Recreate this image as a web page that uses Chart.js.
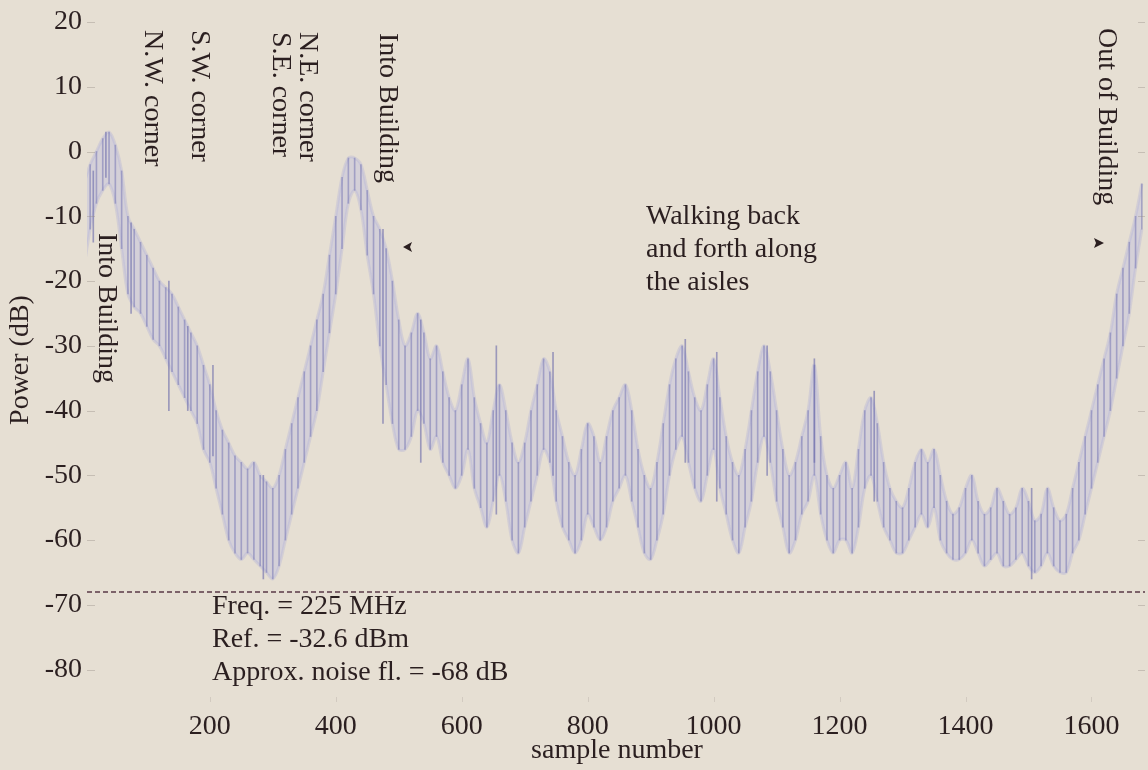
<!DOCTYPE html>
<html>
<head>
<meta charset="utf-8">
<script src="https://cdn.jsdelivr.net/npm/chart.js@4.4.1/dist/chart.umd.min.js"></script>
<style>
html,body{margin:0;padding:0;background:#e6dfd3;}
canvas{display:block;}
</style>
</head>
<body>
<canvas id="c" width="1148" height="770"></canvas>
<script>
// ---- data ----
const samples = [
0,10,20,30,40,50,60,70,80,90,
100,110,120,130,140,150,160,170,180,190,
200,210,220,230,240,250,260,270,280,290,
300,310,320,330,340,350,360,370,380,390,
400,410,420,430,440,450,460,470,480,490,
500,510,520,530,540,550,560,570,580,590,
600,610,620,630,640,650,660,670,680,690,
700,710,720,730,740,750,760,770,780,790,
800,810,820,830,840,850,860,870,880,890,
900,910,920,930,940,950,960,970,980,990,
1000,1010,1020,1030,1040,1050,1060,1070,1080,1090,
1100,1110,1120,1130,1140,1150,1160,1170,1180,1190,
1200,1210,1220,1230,1240,1250,1260,1270,1280,1290,
1300,1310,1320,1330,1340,1350,1360,1370,1380,1390,
1400,1410,1420,1430,1440,1450,1460,1470,1480,1490,
1500,1510,1520,1530,1540,1550,1560,1570,1580,1590,
1600,1610,1620,1630,1640,1650,1660,1670,1680];
const powerUpper = [
-5,-2,0,2,3,1,-3,-10,-12,-14,
-16,-18,-20,-21,-22,-24,-26,-28,-30,-33,
-36,-40,-43,-45,-47,-48,-49,-48,-50,-51,
-52,-50,-46,-42,-38,-34,-30,-26,-22,-16,
-10,-4,-1,-1,-2,-6,-10,-12,-15,-20,
-26,-30,-28,-25,-28,-32,-30,-34,-38,-40,
-36,-32,-38,-42,-45,-40,-36,-40,-45,-48,
-45,-40,-36,-32,-34,-40,-44,-48,-50,-46,
-42,-44,-48,-44,-40,-38,-36,-40,-46,-50,
-52,-48,-42,-36,-32,-30,-34,-38,-40,-36,
-32,-38,-44,-48,-50,-46,-40,-34,-30,-34,
-40,-46,-50,-48,-44,-40,-33,-44,-50,-52,
-50,-48,-52,-46,-40,-38,-42,-48,-52,-54,
-55,-52,-48,-46,-48,-46,-50,-54,-56,-55,
-52,-50,-54,-56,-55,-52,-54,-56,-55,-52,
-54,-57,-56,-52,-55,-57,-56,-52,-48,-44,
-40,-36,-32,-28,-22,-18,-14,-10,-5];
const powerLower = [
-18,-12,-8,-6,-5,-8,-15,-22,-24,-25,
-27,-29,-30,-32,-34,-36,-38,-40,-42,-46,
-48,-52,-56,-60,-62,-63,-62,-63,-64,-65,
-66,-64,-60,-56,-52,-48,-44,-40,-34,-28,
-22,-15,-8,-6,-9,-16,-22,-30,-36,-42,
-46,-46,-44,-40,-42,-46,-44,-48,-50,-52,
-50,-46,-52,-55,-58,-54,-50,-54,-60,-62,
-58,-54,-50,-46,-48,-54,-58,-60,-62,-60,
-56,-58,-60,-58,-54,-52,-50,-54,-58,-62,
-63,-60,-56,-50,-46,-44,-48,-52,-54,-50,
-46,-52,-56,-60,-62,-58,-54,-48,-44,-48,
-54,-58,-62,-60,-56,-54,-50,-56,-60,-62,
-60,-60,-62,-58,-52,-50,-54,-58,-60,-62,
-62,-60,-58,-56,-58,-55,-60,-62,-63,-63,
-62,-60,-62,-64,-63,-62,-64,-64,-63,-62,
-64,-65,-64,-62,-64,-65,-65,-62,-60,-56,
-52,-48,-44,-40,-35,-30,-25,-18,-12];
// sparse isolated spikes seen above/below the band
const spikeSamples = [15, 35, 75, 135, 165, 205, 285, 475, 535, 655, 745, 955, 1005, 1085, 1160, 1255, 1505];
const spikeTop = [-3, 3, -11, -20, -27, -33, -50, -12, -26, -30, -31, -29, -31, -30, -32, -37, -52];
const spikeBottom = [-14, -4, -25, -40, -40, -47, -66, -42, -48, -56, -50, -48, -54, -50, -48, -54, -66];
const noiseFloor = -68;
const xTicks = [200,400,600,800,1000,1200,1400,1600];
const yTicks = [20,10,0,-10,-20,-30,-40,-50,-60,-70,-80];
const xRange = [5,1685];
const yRange = [-85,20];

const FONT = '"Liberation Serif", "Times New Roman", serif';
const TXT = '#2b1f20';

const bandData = samples.map((s,i)=>({x:s, y:[powerLower[i], powerUpper[i]]}));
const upperData = samples.map((s,i)=>({x:s, y:powerUpper[i]}));
const lowerData = samples.map((s,i)=>({x:s, y:powerLower[i]}));
const spikeData = spikeSamples.map((s,i)=>({x:s, y:[spikeBottom[i], spikeTop[i]]}));
const floorData = [{x:xRange[0], y:noiseFloor},{x:xRange[1], y:noiseFloor}];

const annot = {
  id:'annot',
  afterDraw(chart){
    const ctx = chart.ctx, xs = chart.scales.x, ys = chart.scales.y, ca = chart.chartArea;
    const X = v=>xs.getPixelForValue(v), Y = v=>ys.getPixelForValue(v);
    ctx.save();
    ctx.strokeStyle = 'rgba(150,140,135,0.4)';
    ctx.lineWidth = 1;
    yTicks.forEach(v=>{
      const y = Math.round(Y(v))+0.5;
      ctx.beginPath(); ctx.moveTo(ca.left, y); ctx.lineTo(ca.left+8, y); ctx.stroke();
      ctx.beginPath(); ctx.moveTo(ca.right-7, y); ctx.lineTo(ca.right, y); ctx.stroke();
    });
    ctx.strokeStyle = 'rgba(150,140,135,0.25)';
    xTicks.forEach(v=>{
      const x = Math.round(X(v))+0.5;
      ctx.beginPath(); ctx.moveTo(x, ca.bottom); ctx.lineTo(x, ca.bottom-5); ctx.stroke();
    });
    ctx.fillStyle = TXT;
    ctx.font = '28px ' + FONT;
    const rot = (lines, cx, top) => {
      ctx.save();
      ctx.translate(cx, top);
      ctx.rotate(Math.PI/2);
      ctx.textAlign = 'left'; ctx.textBaseline = 'middle';
      lines.forEach((t,i)=>ctx.fillText(t, 0, i*27));
      ctx.restore();
    };
    rot(['N.W. corner'], 152, 30);
    rot(['S.W. corner'], 199, 30);
    rot(['N.E. corner','S.E. corner'], 307, 32);
    rot(['Into Building'], 387, 33);
    rot(['Into Building'], 106, 233);
    rot(['Out of Building'], 1106, 28);
    ctx.beginPath();
    ctx.moveTo(403, 247); ctx.lineTo(412, 242); ctx.lineTo(410, 247); ctx.lineTo(412, 252); ctx.closePath(); ctx.fill();
    ctx.beginPath();
    ctx.moveTo(1104, 243); ctx.lineTo(1094, 238); ctx.lineTo(1096, 243); ctx.lineTo(1094, 248); ctx.closePath(); ctx.fill();
    ctx.textAlign = 'left'; ctx.textBaseline = 'middle';
    ctx.fillText('Walking back', 646, 217);
    ctx.fillText('and forth along', 646, 250);
    ctx.fillText('the aisles', 646, 283);
    ctx.fillText('Freq. = 225 MHz', 212, 607);
    ctx.fillText('Ref. = -32.6 dBm', 212, 640);
    ctx.fillText('Approx. noise fl. = -68 dB', 212, 673);
    ctx.textAlign = 'center';
    ctx.fillText('sample number', 617, 751);
    ctx.save();
    ctx.translate(21, 360); ctx.rotate(-Math.PI/2);
    ctx.fillText('Power (dB)', 0, 0);
    ctx.restore();
    ctx.restore();
  }
};

new Chart(document.getElementById('c'), {
  type:'bar',
  data:{
    datasets:[
      {type:'line', data:floorData, borderColor:'#5a3a47', borderWidth:1.5, borderDash:[5,3], pointRadius:0, order:0},
      {type:'line', data:upperData, borderColor:'rgba(175,175,215,0.35)', borderWidth:3, pointRadius:0, tension:0.35,
        fill:'+1', backgroundColor:'rgba(188,188,224,0.42)', order:5},
      {type:'line', data:lowerData, borderColor:'rgba(175,175,215,0.35)', borderWidth:3, pointRadius:0, tension:0.35, fill:false, order:4},
      {data:bandData, backgroundColor:'rgba(118,118,178,0.55)', barThickness:1, grouped:false, order:2},
      {data:spikeData, backgroundColor:'rgba(105,105,170,0.6)', barThickness:1, grouped:false, order:1}
    ]
  },
  options:{
    responsive:false, animation:false, devicePixelRatio:1,
    layout:{padding:{top:22, right:3, left:0, bottom:0}},
    plugins:{legend:{display:false}, tooltip:{enabled:false}, filler:{propagate:false}},
    scales:{
      x:{type:'linear', min:xRange[0], max:xRange[1], offset:false,
        grid:{display:false, drawTicks:false}, border:{display:false},
        afterBuildTicks:s=>{s.ticks = xTicks.map(v=>({value:v}));},
        afterFit:s=>{s.height = 68;},
        ticks:{color:TXT, font:{family:FONT, size:28}, padding:8, maxRotation:0, autoSkip:false,
          callback:v=>String(v)}
      },
      y:{min:yRange[0], max:yRange[1],
        grid:{display:false, drawTicks:false}, border:{display:false},
        afterBuildTicks:s=>{s.ticks = yTicks.map(v=>({value:v}));},
        afterFit:s=>{s.width = 87;},
        ticks:{color:TXT, font:{family:FONT, size:28}, padding:5, autoSkip:false,
          callback:v=>String(v)}
      }
    }
  },
  plugins:[annot]
});
</script>
</body>
</html>
